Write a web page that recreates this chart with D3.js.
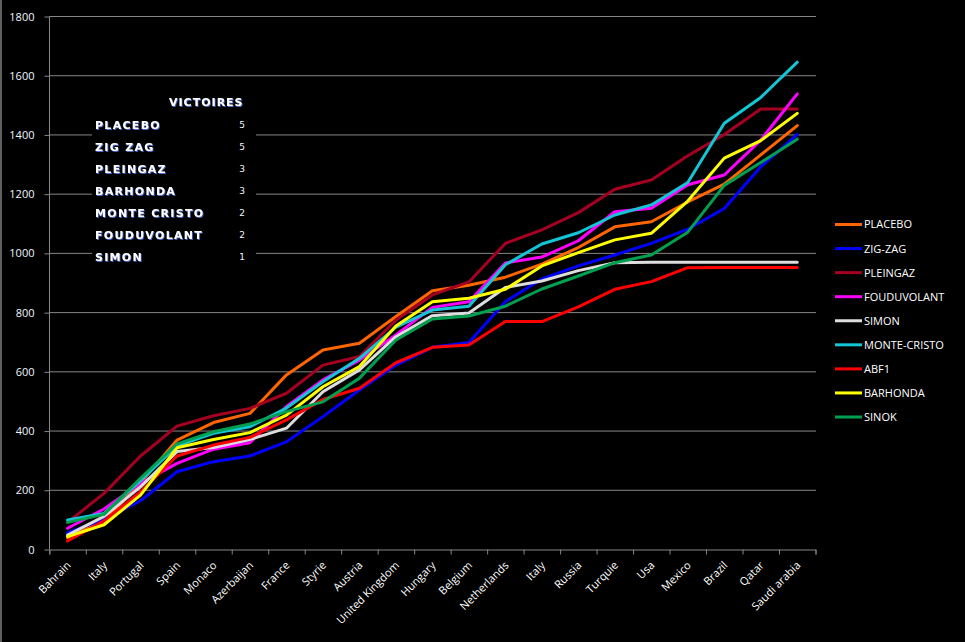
<!DOCTYPE html>
<html>
<head>
<meta charset="utf-8">
<script src="https://cdn.jsdelivr.net/npm/d3@7"></script>
<style>
html,body{margin:0;padding:0;background:#000;}
svg{display:block;}
</style>
</head>
<body>
<svg id="chart" width="965" height="642"></svg>
<script>
const categories = ["Bahrain","Italy","Portugal","Spain","Monaco","Azerbaijan","France","Styrie","Austria","United Kingdom","Hungary","Belgium","Netherlands","Italy","Russia","Turquie","Usa","Mexico","Brazil","Qatar","Saudi arabia"];
const seriesNames = ["PLACEBO","ZIG-ZAG","PLEINGAZ","FOUDUVOLANT","SIMON","MONTE-CRISTO","ABF1","BARHONDA","SINOK"];
const placebo     = [38, 95, 224, 368, 427, 458, 588, 672, 695, 785, 872, 891, 918, 962, 1018, 1088, 1105, 1172, 1232, 1331, 1430];
const zigzag      = [55, 100, 163, 261, 295, 314, 362, 447, 537, 621, 681, 697, 835, 912, 956, 993, 1032, 1080, 1150, 1291, 1400];
const pleingaz    = [90, 188, 314, 415, 450, 475, 526, 621, 650, 773, 858, 902, 1032, 1078, 1136, 1215, 1246, 1328, 1400, 1486, 1486];
const fouduvolant = [70, 135, 222, 289, 337, 359, 481, 571, 638, 723, 816, 835, 966, 986, 1041, 1139, 1151, 1230, 1263, 1381, 1537];
const simon       = [47, 110, 210, 329, 343, 370, 408, 531, 605, 717, 788, 797, 883, 905, 940, 967, 968, 968, 968, 968, 968];
const monteCristo = [98, 120, 231, 348, 391, 413, 476, 565, 644, 749, 807, 820, 960, 1030, 1068, 1128, 1162, 1238, 1438, 1525, 1644];
const abf1        = [27, 95, 194, 314, 351, 377, 436, 505, 543, 629, 681, 689, 768, 768, 818, 877, 903, 950, 951, 951, 951];
const barhonda    = [42, 82, 182, 342, 370, 393, 452, 548, 616, 753, 835, 847, 877, 956, 1001, 1044, 1066, 1175, 1320, 1379, 1471];
const sinok       = [90, 117, 239, 355, 396, 422, 464, 497, 577, 706, 777, 787, 820, 878, 922, 967, 993, 1070, 1228, 1305, 1384];
const seriesValues = [placebo, zigzag, pleingaz, fouduvolant, simon, monteCristo, abf1, barhonda, sinok];
const seriesColors = ["#FF6600","#0000FF","#A50021","#FF00FF","#DDDDDD","#12C6D6","#FF0000","#FFFF00","#00A050"];
const yTicks = [0,200,400,600,800,1000,1200,1400,1600,1800];
const winners = ["PLACEBO","ZIG ZAG","PLEINGAZ","BARHONDA","MONTE CRISTO","FOUDUVOLANT","SIMON"];
const wins = [5,5,3,3,2,2,1];

const svg = d3.select("#chart");
svg.append("rect").attr("width",965).attr("height",642).attr("fill","#000");
svg.append("line").attr("x1",1).attr("x2",1).attr("y1",0).attr("y2",642).attr("stroke","#808080").attr("stroke-width",1.5);

const x = d3.scaleBand().domain(d3.range(categories.length)).range([49.3, 815.5]).padding(0);
const xTick = d3.scaleLinear().domain([0, categories.length]).range([49.3, 815.5]);
const y = d3.scaleLinear().domain([0,1800]).range([549,16]);

// gridlines
svg.append("g").selectAll("line").data(yTicks.filter(d=>d>0)).join("line")
  .attr("x1",49.3).attr("x2",816).attr("y1",d=>y(d)+0.5).attr("y2",d=>y(d)+0.5)
  .attr("stroke","#868686").attr("stroke-width",1);

// y axis
const yAxis = svg.append("g").attr("transform","translate(49.5,0.5)")
  .call(d3.axisLeft(y).tickValues(yTicks).tickSize(5).tickPadding(10).tickFormat(d3.format("d")));
yAxis.selectAll("path,line").attr("stroke","#868686");
yAxis.selectAll("text").attr("fill","#EEF6FF").style("font-family","'Open Sans', sans-serif").style("font-size","11px");
yAxis.select(".domain").attr("d","M0,16V549");

// x axis ticks
const xAxis = svg.append("g").attr("transform","translate(0,549.5)")
  .call(d3.axisBottom(xTick).tickValues(d3.range(categories.length+1)).tickSize(5).tickFormat(""));
xAxis.selectAll("path,line").attr("stroke","#868686");
xAxis.selectAll("line").attr("transform", function(){ const t=d3.select(this.parentNode).attr("transform"); return null; });

// x labels
svg.append("g").selectAll("text").data(categories).join("text")
  .attr("transform",(d,i)=>`translate(${x(i)+x.bandwidth()/2+4},566) rotate(-45)`)
  .attr("text-anchor","end")
  .attr("fill","#FFFFFF")
  .style("font-family","'Open Sans', sans-serif").style("font-size","11px")
  .text(d=>d);

// victoires box (covers gridlines)
const box = svg.append("g");
box.append("rect").attr("x",92).attr("y",88).attr("width",164).attr("height",180).attr("fill","#000");
const defs = svg.append("defs");
const f = defs.append("filter").attr("id","sh").attr("x","-10%").attr("y","-30%").attr("width","130%").attr("height","170%");
f.append("feDropShadow").attr("dx",0.8).attr("dy",1).attr("stdDeviation",0.2).attr("flood-color","#4A6BD0").attr("flood-opacity",1);
box.append("text").attr("x",169).attr("y",106).attr("fill","#fff").attr("filter","url(#sh)")
  .style("font-family","'DejaVu Sans', sans-serif").style("font-weight","bold").style("font-size","11px").style("letter-spacing","1px")
  .text("VICTOIRES");
const rowY = d3.scaleLinear().domain([0,6]).range([129,260.5]);
box.append("g").selectAll("text").data(winners).join("text")
  .attr("x",95).attr("y",(d,i)=>rowY(i)).attr("fill","#fff").attr("filter","url(#sh)")
  .style("font-family","'DejaVu Sans', sans-serif").style("font-weight","bold").style("font-size","11px").style("letter-spacing","1.3px")
  .text(d=>d);
box.append("g").selectAll("text").data(wins).join("text")
  .attr("x",242).attr("y",(d,i)=>rowY(i)-1).attr("text-anchor","middle").attr("fill","#EEF6FF")
  .style("font-family","'DejaVu Sans', sans-serif").style("font-size","9px")
  .text(d=>d);

// lines
const line = d3.line().x((d,i)=>x(i)+x.bandwidth()/2).y(d=>y(d));
svg.append("g").selectAll("path").data(seriesValues).join("path")
  .attr("d",line).attr("fill","none")
  .attr("stroke",(d,i)=>seriesColors[i]).attr("stroke-width",3)
  .attr("stroke-linejoin","round").attr("stroke-linecap","round");

// legend
const lg = svg.append("g");
const legY = d3.scaleLinear().domain([0,8]).range([224.5,417]);
lg.selectAll("line").data(seriesNames).join("line")
  .attr("x1",835).attr("x2",862).attr("y1",(d,i)=>legY(i)).attr("y2",(d,i)=>legY(i))
  .attr("stroke",(d,i)=>seriesColors[i]).attr("stroke-width",3);
lg.selectAll("text").data(seriesNames).join("text")
  .attr("x",864).attr("y",(d,i)=>legY(i)).attr("dy","0.36em").attr("fill","#fff")
  .style("font-family","'Open Sans', sans-serif").style("font-size","11px")
  .text(d=>d);
</script>
</body>
</html>
